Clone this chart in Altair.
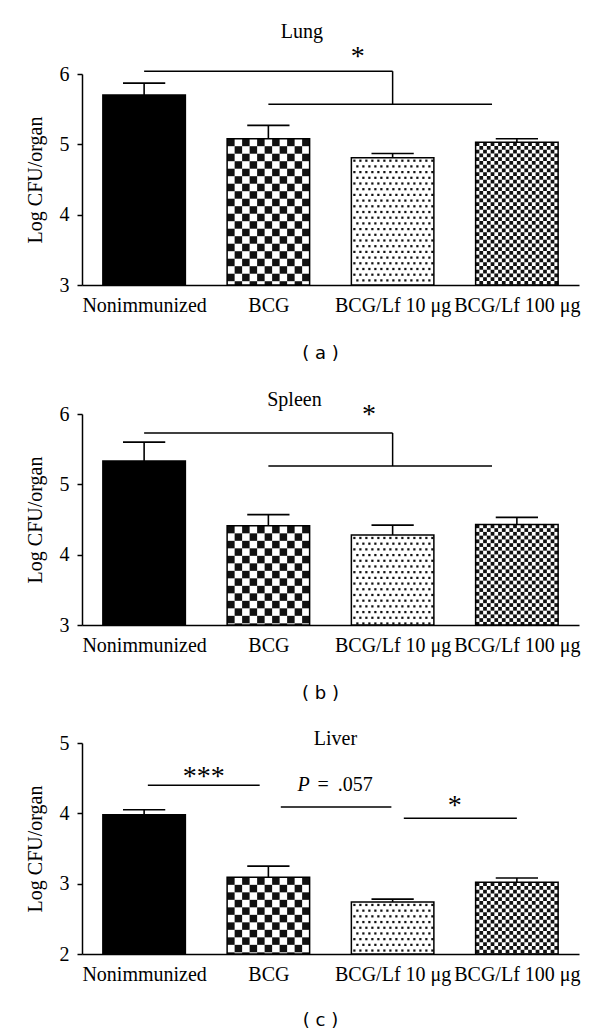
import json
import altair as alt
import pandas as pd

# ---------------- data ----------------
groups = ["Nonimmunized", "BCG", "BCG/Lf 10 \u03bcg", "BCG/Lf 100 \u03bcg"]

lung_mean = [5.70, 5.08, 4.81, 5.03]
lung_sem = [0.17, 0.19, 0.06, 0.05]
spleen_mean = [5.33, 4.41, 4.28, 4.43]
spleen_sem = [0.27, 0.16, 0.14, 0.10]
liver_mean = [3.98, 3.09, 2.74, 3.02]
liver_sem = [0.07, 0.16, 0.04, 0.06]

panel_titles = ["Lung", "Spleen", "Liver"]
captions = ["( a )", "( b )", "( c )"]
y_domains = [[3, 6], [3, 6], [2, 5]]
y_ticks = [[3, 4, 5, 6], [3, 4, 5, 6], [2, 3, 4, 5]]

# significance brackets (x in group index units, y in Log CFU)
lung_seg_x = [0, 2, 1]
lung_seg_x2 = [2, 2, 2.8]
lung_seg_y = [6.04, 6.04, 5.57]
lung_seg_y2 = [6.04, 5.57, 5.57]
lung_txt = ["Lung", "*"]
lung_txt_x = [1.27, 1.72]
lung_txt_y = [6.60, 6.24]
lung_txt_size = [20, 28]

spleen_seg_x = [0, 2, 1]
spleen_seg_x2 = [2, 2, 2.8]
spleen_seg_y = [5.73, 5.73, 5.26]
spleen_seg_y2 = [5.73, 5.26, 5.26]
spleen_txt = ["Spleen", "*"]
spleen_txt_x = [1.21, 1.81]
spleen_txt_y = [6.20, 5.98]
spleen_txt_size = [20, 28]

liver_seg_x = [0.03, 1.10, 2.09]
liver_seg_x2 = [0.93, 1.99, 3.0]
liver_seg_y = [4.40, 4.09, 3.93]
liver_seg_y2 = [4.40, 4.09, 3.93]
liver_txt = ["Liver", "***", "=", ".057", "*"]
liver_txt_x = [1.54, 0.48, 1.44, 1.70, 2.50]
liver_txt_y = [5.05, 4.51, 4.40, 4.40, 4.11]
liver_txt_size = [20, 28, 20, 20, 28]
liver_italic = ["P"]
liver_italic_x = [1.283]
liver_italic_y = [4.40]

# ---------------- styling ----------------
W, H = 497, 211
HALF = 0.332      # half bar width in group units
CAP = 0.17        # half error-cap width
PX_X = W / 4.0
PX_Y = H / 3.0
SERIF = "Liberation Serif"
SANS = "DejaVu Sans"
label_expr = json.dumps(groups) + "[datum.value]"


def checker_cells(i, top, base, ncols):
    x0 = i - HALF
    cw = 2 * HALF / ncols
    ch = cw * PX_X / PX_Y
    out = []
    r = 0
    yt = top
    while yt > base + 1e-9:
        yb = max(base, yt - ch)
        for c in range(ncols):
            if (r + c) % 2 == 0:
                out.append({"x": x0 + c * cw, "x2": x0 + (c + 1) * cw, "y": yb, "y2": yt})
        yt -= ch
        r += 1
    return out


def dot_cells(i, top, base):
    x0 = i - HALF
    x1 = i + HALF
    dx = 6.0 / PX_X
    dy = 5.7 / PX_Y
    out = []
    r = 0
    y = top - 3.0 / PX_Y
    while y > base + 1.5 / PX_Y:
        x = x0 + (3.0 if r % 2 == 0 else 6.0) / PX_X
        while x < x1 - 1.5 / PX_X:
            out.append({"x": x, "y": y})
            x += dx
        y -= dy
        r += 1
    return out


def panel(k, means, sems, seg, txt, italic=None):
    base = y_domains[k][0]
    xaxis = alt.Axis(values=[0, 1, 2, 3], labelExpr=label_expr, ticks=False,
                     domainColor="black", domainWidth=1.5, labelFont=SERIF,
                     labelFontSize=20, labelColor="black", labelPadding=10,
                     labelOverlap=False, labelBound=False, labelFlush=False,
                     grid=False, title=captions[k], titleFont=SANS, titleFontSize=18,
                     titleFontWeight="normal", titleColor="black",
                     titleX=238, titleY=[68, 68, 66][k], titleBaseline="middle",
                     titleAlign="center")
    yaxis = alt.Axis(values=y_ticks[k], format="d", tickSize=5, tickWidth=1.5,
                     tickColor="black", domainColor="black", domainWidth=1.5,
                     labelFont=SERIF, labelFontSize=20, labelColor="black",
                     labelPadding=8, grid=False, title="Log CFU/organ",
                     titleFont=SERIF, titleFontSize=20, titleFontWeight="normal",
                     titleColor="black", titlePadding=14)
    xs = alt.Scale(domain=[-0.5, 3.5], nice=False, zero=False)
    ys = alt.Scale(domain=y_domains[k], nice=False, zero=False)

    def X(f="x"):
        return alt.X(f"{f}:Q", scale=xs, axis=xaxis)

    def Y(f="y"):
        return alt.Y(f"{f}:Q", scale=ys, axis=yaxis)

    bars = pd.DataFrame({
        "g": groups,
        "x": [i - HALF for i in range(4)],
        "x2": [i + HALF for i in range(4)],
        "y": [base] * 4,
        "y2": means,
        "fill": ["black", "white", "white", "white"],
    })
    err = pd.DataFrame({
        "x": list(range(4)),
        "xl": [i - CAP for i in range(4)],
        "xr": [i + CAP for i in range(4)],
        "y": means,
        "y2": [m + s for m, s in zip(means, sems)],
    })
    cells = checker_cells(1, means[1], base, 11) + checker_cells(3, means[3], base, 22)
    cells = pd.DataFrame(cells)
    dots = pd.DataFrame(dot_cells(2, means[2], base))
    segs = pd.DataFrame({"x": seg[0], "x2": seg[1], "y": seg[2], "y2": seg[3]})
    texts = pd.DataFrame({"t": txt[0], "x": txt[1], "y": txt[2], "s": txt[3]})

    fill_layer = alt.Chart(bars).mark_rect().encode(
        x=X(), x2="x2", y=Y(), y2="y2", fill=alt.Fill("fill:N", scale=None))
    cell_layer = alt.Chart(cells).mark_rect(color="#111").encode(
        x=X(), x2="x2", y=Y(), y2="y2")
    dot_layer = alt.Chart(dots).mark_square(size=5, color="#111", opacity=1).encode(
        x=X(), y=Y())
    outline = alt.Chart(bars).mark_rect(fill=None, fillOpacity=0, stroke="black",
                                        strokeWidth=1.5).encode(
        x=X(), x2="x2", y=Y(), y2="y2")
    ebar = alt.Chart(err).mark_rule(color="black", strokeWidth=1.6).encode(
        x=X(), y=Y(), y2="y2")
    ecap = alt.Chart(err).mark_rule(color="black", strokeWidth=1.6).encode(
        x=X("xl"), x2="xr", y=Y("y2"))
    seg_layer = alt.Chart(segs).mark_rule(color="black", strokeWidth=1.5).encode(
        x=X(), x2="x2", y=Y(), y2="y2")
    txt_layer = alt.Chart(texts).mark_text(font=SERIF, baseline="middle",
                                           align="center", color="black").encode(
        x=X(), y=Y(), text="t:N", size=alt.Size("s:Q", scale=None))
    layers = [fill_layer, cell_layer, dot_layer, outline, ebar, ecap, seg_layer, txt_layer]
    if italic is not None:
        it = pd.DataFrame({"t": italic[0], "x": italic[1], "y": italic[2]})
        layers.append(alt.Chart(it).mark_text(font=SERIF, fontStyle="italic",
                                              fontSize=20, baseline="middle",
                                              align="center", color="black").encode(
            x=X(), y=Y(), text="t:N"))
    return alt.layer(*layers).properties(width=W, height=H)


pa = panel(0, lung_mean, lung_sem,
           (lung_seg_x, lung_seg_x2, lung_seg_y, lung_seg_y2),
           (lung_txt, lung_txt_x, lung_txt_y, lung_txt_size))
pb = panel(1, spleen_mean, spleen_sem,
           (spleen_seg_x, spleen_seg_x2, spleen_seg_y, spleen_seg_y2),
           (spleen_txt, spleen_txt_x, spleen_txt_y, spleen_txt_size))
pc = panel(2, liver_mean, liver_sem,
           (liver_seg_x, liver_seg_x2, liver_seg_y, liver_seg_y2),
           (liver_txt, liver_txt_x, liver_txt_y, liver_txt_size),
           (liver_italic, liver_italic_x, liver_italic_y))

chart = alt.vconcat(pa, pb, pc, spacing=27).configure_view(stroke=None).properties(
    padding={"left": 17, "top": 13, "right": 5, "bottom": 2},
    background="white")

chart.save("out.html", embed_options={"renderer": "svg", "actions": False})
